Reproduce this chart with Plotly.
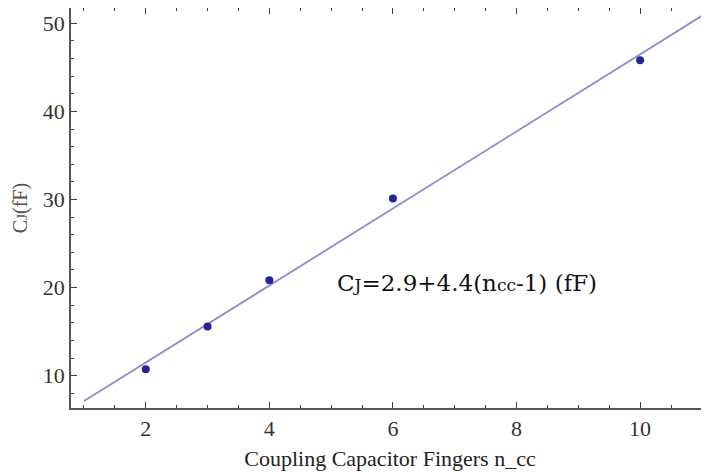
import numpy as np
import plotly.graph_objects as go

# data
n_cc = [2, 3, 4, 6, 10]
cj_ff = [10.73, 15.57, 20.84, 30.11, 45.80]
fit_x_range = [1, 11]

x_ticks = [2, 4, 6, 8, 10]
y_ticks = [10, 20, 30, 40, 50]

# least-squares fit line of the data
slope, intercept = np.polyfit(n_cc, cj_ff, 1)
fx = np.linspace(fit_x_range[0], fit_x_range[1], 50)
fy = intercept + slope * fx

serif = "Liberation Serif, Times New Roman, serif"

fig = go.Figure()
fig.add_trace(go.Scatter(x=fx, y=fy, mode="lines",
                         line=dict(color="#8c8cd0", width=1.8),
                         hoverinfo="skip", showlegend=False))
fig.add_trace(go.Scatter(x=n_cc, y=cj_ff, mode="markers",
                         marker=dict(color="#25239a", size=8),
                         showlegend=False))

fig.add_annotation(
    x=5.06, y=20.53, xref="x", yref="y", xanchor="left", yanchor="middle",
    text='C<span style="font-size:17px">J</span>=2.9+4.4(n<span style="font-size:17px">cc</span>-1) (fF)',
    showarrow=False, font=dict(family="DejaVu Serif, serif", size=23, color="#111"))

# page body has an 8px default margin, so the figure is sized to fit the window
fig.update_layout(
    width=701, height=464,
    margin=dict(l=63, r=0, t=0, b=64),
    paper_bgcolor="white", plot_bgcolor="white",
    font=dict(family=serif),
)
fig.update_xaxes(
    range=[0.79, 11.115], tickvals=x_ticks, ticktext=[str(v) for v in x_ticks],
    ticks="inside", ticklen=6, tickwidth=1.2, tickcolor="#444",
    minor=dict(dtick=0.5, tick0=0, ticks="inside", ticklen=3, tickcolor="#444"),
    showline=True, linecolor="#555", linewidth=1.5, mirror="allticks",
    showgrid=False, zeroline=False, automargin=False,
    tickfont=dict(family=serif, size=22, color="#333"),
    title=dict(text="Coupling Capacitor Fingers n_cc", standoff=10,
               font=dict(family=serif, size=22, color="#222")),
)
fig.update_yaxes(
    range=[6.33, 51.74], tickvals=y_ticks, ticktext=[str(v) for v in y_ticks],
    ticks="inside", ticklen=6, tickwidth=1.2, tickcolor="#444",
    minor=dict(dtick=2, tick0=0, ticks="inside", ticklen=3, tickcolor="#444"),
    showline=True, linecolor="#555", linewidth=1.5, mirror=False,
    showgrid=False, zeroline=False, automargin=False,
    tickfont=dict(family=serif, size=22, color="#333"),
    title=dict(text='C<span style="font-size:15px">J</span>(fF)', standoff=10,
               font=dict(family=serif, size=20, color="#5a4e44")),
)

fig.write_html("out.html")
